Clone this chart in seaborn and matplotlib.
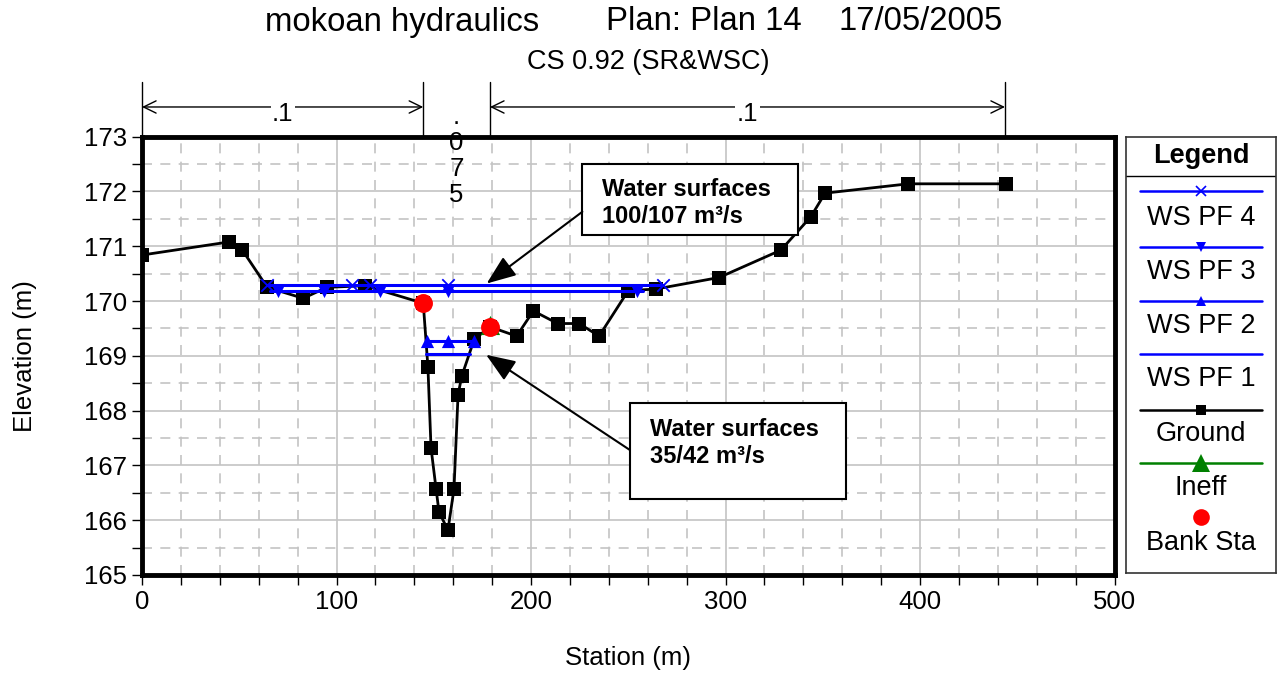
import matplotlib
matplotlib.use("Agg")
import pandas as pd
import seaborn as sns
import matplotlib.pyplot as plt
from matplotlib.ticker import MultipleLocator

# ground profile (station m, elevation m)
ground_sta = [0.0, 44.9, 51.6, 64.4, 82.9, 95.0, 114.7, 144.6, 147.0, 148.6, 151.2, 152.7,
              157.3, 160.4, 162.5, 164.4, 170.8, 178.9, 192.6, 201.2, 213.7, 224.8, 235.0,
              250.0, 264.3, 296.7, 328.5, 343.9, 351.2, 394.0, 444.2]
ground_elev = [170.84, 171.08, 170.93, 170.25, 170.05, 170.25, 170.28, 169.96, 168.80, 167.32,
               166.57, 166.15, 165.82, 166.57, 168.29, 168.63, 169.30, 169.53, 169.36, 169.82,
               169.59, 169.59, 169.36, 170.19, 170.22, 170.43, 170.93, 171.54, 171.97, 172.14,
               172.14]

# water surfaces
ws4_elev = 170.29
ws4_ends = [64.4, 268.0]
ws4_marks = [64.4, 107.8, 117.2, 157.5, 268.0]
ws3_elev = 170.19
ws3_ends = [65.8, 257.6]
ws3_marks = [69.8, 93.7, 122.4, 157.5, 254.3]
ws2_elev = 169.28
ws2_ends = [146.4, 170.8]
ws2_marks = [146.4, 157.5, 170.8]
ws1_elev = 169.04
ws1_ends = [146.0, 168.6]

bank_sta = [144.6, 178.9]
bank_elev = [169.96, 169.53]
ineff_sta = [178.9]
ineff_elev = [169.57]

# manning's n regions
n_breaks = [0.0, 144.6, 178.9, 443.7]
n_values = [".1", ".075", ".1"]

sns.set_style("white")
plt.rcParams["font.family"] = ["Liberation Sans", "DejaVu Sans"]
plt.rcParams["text.color"] = "black"
plt.rcParams["axes.labelcolor"] = "black"
plt.rcParams["xtick.color"] = "black"
plt.rcParams["ytick.color"] = "black"

fig = plt.figure(figsize=(12.84, 6.77), dpi=100)
ax = fig.add_axes([142 / 1284, 102 / 677, 972.5 / 1284, 438.3 / 677])

ax.set_xlim(0, 500)
ax.set_ylim(165, 173)
ax.xaxis.set_major_locator(MultipleLocator(100))
ax.xaxis.set_minor_locator(MultipleLocator(20))
ax.yaxis.set_major_locator(MultipleLocator(1))
ax.yaxis.set_minor_locator(MultipleLocator(0.5))
ax.set_axisbelow(True)
ax.grid(which="major", color="#c4c4c4", lw=1.2, ls="-")
ax.grid(which="minor", color="#c4c4c4", lw=1.2, ls=(0, (6, 5)))
for s in ax.spines.values():
    s.set_linewidth(3.5)
    s.set_color("black")
ax.tick_params(which="both", direction="out", length=7, width=1, color="black",
               labelcolor="black", labelsize=18.5, pad=4, bottom=True, left=True)

# ground
gdf = pd.DataFrame({"sta": ground_sta, "elev": ground_elev})
sns.lineplot(data=gdf, x="sta", y="elev", color="black", lw=2, marker="s", markersize=9.5,
             markeredgewidth=0, sort=False, estimator=None, ax=ax, zorder=3)

# water surface lines
for ends, lev in [(ws4_ends, ws4_elev), (ws3_ends, ws3_elev), (ws2_ends, ws2_elev), (ws1_ends, ws1_elev)]:
    sns.lineplot(x=ends, y=[lev] * len(ends), color="blue", lw=2.2, sort=False,
                 estimator=None, ax=ax, zorder=4)
sns.scatterplot(x=ws4_marks, y=[ws4_elev] * len(ws4_marks), marker="x", s=80, color="blue",
                linewidth=1.3, ax=ax, zorder=5)
sns.scatterplot(x=ws3_marks, y=[ws3_elev] * len(ws3_marks), marker="v", s=90, color="blue",
                linewidth=0, ax=ax, zorder=5)
sns.scatterplot(x=ws2_marks, y=[ws2_elev] * len(ws2_marks), marker="^", s=90, color="blue",
                linewidth=0, ax=ax, zorder=5)

# ineffective and bank stations
sns.scatterplot(x=ineff_sta, y=ineff_elev, marker="^", s=190, color="#008000", linewidth=0,
                ax=ax, zorder=6)
sns.scatterplot(x=bank_sta, y=bank_elev, marker="o", s=185, color="red", linewidth=0,
                ax=ax, zorder=7)

ax.set_xlabel("Station (m)", fontsize=18.5)
ax.set_ylabel("Elevation (m)", fontsize=18.5)
ax.xaxis.set_label_coords(0.5, -0.163)
ax.yaxis.set_label_coords(-0.108, 0.5)

# callouts
for (x0, x1, y0, y1), tx, ty, lines, tip, tail in [
    ((226.4, 337.5, 171.21, 172.51), 236.7, 171.92, ["Water surfaces", "100/107 m³/s"],
     (177.2, 170.32), (226.4, 171.63)),
    ((250.9, 362.0, 166.38, 168.14), 261.2, 167.53, ["Water surfaces", "35/42 m³/s"],
     (176.9, 169.02), (250.9, 167.28)),
]:
    ax.add_patch(plt.Rectangle((x0, y0), x1 - x0, y1 - y0, fc="white", ec="black", lw=1.5,
                               zorder=8))
    ax.text(tx, ty, lines[0], fontsize=17, fontweight="bold", va="baseline", zorder=9)
    ax.text(tx, ty - 0.49, lines[1], fontsize=17, fontweight="bold", va="baseline", zorder=9)
    ax.annotate("", xy=tip, xytext=tail,
                arrowprops=dict(arrowstyle="-|>,head_length=0.9,head_width=0.35",
                                mutation_scale=20, color="black", lw=1.5, shrinkA=0, shrinkB=0),
                zorder=9)

# n value dimension lines
tr = ax.get_xaxis_transform()
for xb in n_breaks:
    ax.plot([xb, xb], [1.0, 1.125], transform=tr, color="black", lw=1, clip_on=False)
for i in (0, 2):
    a, b = n_breaks[i], n_breaks[i + 1]
    ax.annotate("", xy=(a, 1.0678), xytext=(b, 1.0678), xycoords=tr, textcoords=tr,
                arrowprops=dict(arrowstyle="<->,head_length=0.45,head_width=0.22",
                                mutation_scale=20, color="black", lw=1, shrinkA=0, shrinkB=0),
                annotation_clip=False)
    ax.text((a + b) / 2, 1.052, n_values[i], transform=tr, ha="center", va="center",
            fontsize=18.5, bbox=dict(fc="white", ec="none", pad=1), clip_on=False)
mid = (n_breaks[1] + n_breaks[2]) / 2
ax.text(mid, 1.072, "\n".join(n_values[1]), transform=tr, ha="center", va="top",
        fontsize=18.5, linespacing=1.1, clip_on=False, zorder=10)

# titles
fig.text(265 / 1284, 1 - 22 / 677, "mokoan hydraulics", fontsize=23.7, va="center")
fig.text(606 / 1284, 1 - 22 / 677, "Plan: Plan 14", fontsize=23.7, va="center")
fig.text(1003 / 1284, 1 - 22 / 677, "17/05/2005", fontsize=23.7, va="center", ha="right")
fig.text(648 / 1284, 1 - 62 / 677, "CS 0.92 (SR&WSC)", fontsize=19.5, va="center", ha="center")

# legend panel
lg = fig.add_axes([1126 / 1284, (677 - 573) / 677, 150 / 1284, 436 / 677])
lg.set_xlim(1126, 1276)
lg.set_ylim(573, 137)
lg.set_xticks([])
lg.set_yticks([])
for s in lg.spines.values():
    s.set_linewidth(1.2)
    s.set_color("#333333")
lg.text(1201, 156, "Legend", ha="center", va="center", fontsize=19.5, fontweight="bold")
lg.plot([1126, 1276], [176, 176], color="black", lw=1)
entries = [
    ("WS PF 4", "blue", "x", 7, 191, 218),
    ("WS PF 3", "blue", "v", 7, 247, 272),
    ("WS PF 2", "blue", "^", 7, 301, 326),
    ("WS PF 1", "blue", None, 0, 354, 379),
    ("Ground", "black", "s", 7, 410, 434),
    ("Ineff", "#008000", "^", 13, 463, 488),
]
for label, col, mk, ms, ly, ty in entries:
    lg.plot([1140, 1262], [ly, ly], color=col, lw=1.8)
    if mk:
        lg.plot([1201], [ly], marker=mk, ms=ms, color=col, mew=1.2 if mk == "x" else 0)
    lg.text(1201, ty, label, ha="center", va="center", fontsize=19.5)
lg.plot([1201], [517], marker="o", ms=12, color="red", mew=0)
lg.text(1201, 543, "Bank Sta", ha="center", va="center", fontsize=19.5)

fig.savefig("out.png", dpi=100)
